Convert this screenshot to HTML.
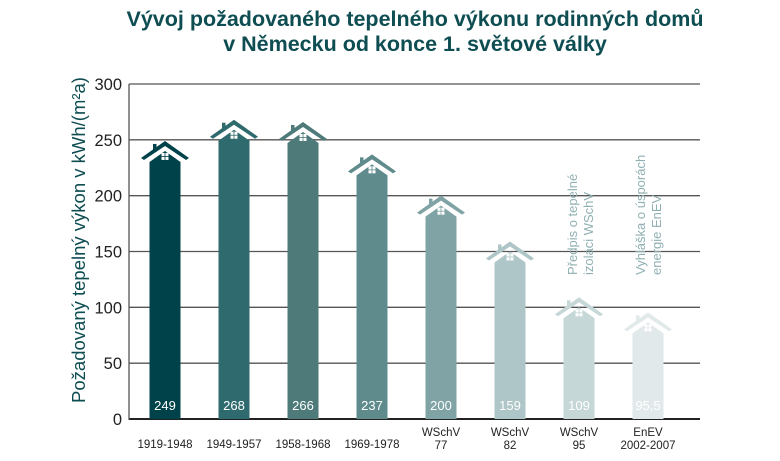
<!DOCTYPE html>
<html><head><meta charset="utf-8"><style>
body{margin:0;background:#fff;}
svg{display:block;font-family:"Liberation Sans",sans-serif;}
</style></head><body>
<svg width="780" height="461" viewBox="0 0 780 461">
<text x="415" y="26" text-anchor="middle" font-size="21.5" font-weight="bold" fill="#0e4d52">Vývoj požadovaného tepelného výkonu rodinných domů</text>
<text x="415" y="51" text-anchor="middle" font-size="21.5" font-weight="bold" fill="#0e4d52">v Německu od konce 1. světové války</text>
<text transform="translate(85,240) rotate(-90)" text-anchor="middle" font-size="18.5" fill="#0e4d52">Požadovaný tepelný výkon v  kWh/(m²a)</text>
<g id="grid"></g>
<g id="bars"></g>
<g id="labels"></g>
<text transform="translate(577,275) rotate(-90)" font-size="13" fill="#8fb0b2"><tspan x="0" y="0">Předpis o tepelné</tspan><tspan x="0" dy="16">izolaci WSchV</tspan></text>
<text transform="translate(645,275) rotate(-90)" font-size="13" fill="#8fb0b2"><tspan x="0" y="0">Vyhláška o úsporách</tspan><tspan x="0" dy="16">energie EnEV</tspan></text>
</svg>
<script>
const categories=[["1919-1948"],["1949-1957"],["1958-1968"],["1969-1978"],["WSchV","77"],["WSchV","82"],["WSchV","95"],["EnEV","2002-2007"]];
const values=[249,268,266,237,200,159,109,95.5];
const valueLabels=["249","268","266","237","200","159","109","95,5"];
const colors=["#00424a","#2f6b6e","#4e7a7a","#5f8b8d","#80a3a5","#afc6c8","#c6d7d8","#e1e9ea"];
const yTicks=[0,50,100,150,200,250,300];
const NS="http://www.w3.org/2000/svg";
const y=v=>419-v*(335/300);
const x=i=>165+i*69;
function mk(tag,attrs,parent,txt){const e=document.createElementNS(NS,tag);for(const k in attrs)e.setAttribute(k,attrs[k]);if(txt!==undefined)e.textContent=txt;parent.appendChild(e);return e;}
const grid=document.getElementById('grid'),bars=document.getElementById('bars'),labels=document.getElementById('labels');
yTicks.forEach(t=>{
  const l=mk('line',{x1:129,x2:700,y1:y(t),y2:y(t),stroke:t===0?'#222':'#555','stroke-width':t===0?2:1.3},grid);
  
  
  const tx=mk('text',{x:122,y:y(t)+6,'text-anchor':'end','font-size':16.5,fill:'#222'},grid,String(t));
  
  
});
mk('line',{x1:129,x2:129,y1:84,y2:420,stroke:'#555','stroke-width':1.3},grid);
values.forEach((v,i)=>{
  const cx=x(i),py=y(v),c=colors[i],b=y(0);
  const g=mk('g',{},bars);
  
  
  mk('rect',{x:cx-12,y:py+3,width:3.5,height:8,fill:c},g);
  mk('polygon',{points:`${cx-24},${py+17} ${cx},${py} ${cx+24},${py+17} ${cx+21},${py+19} ${cx},${py+5} ${cx-21},${py+19}`,fill:c},g);
  mk('polygon',{points:`${cx-15.5},${py+21} ${cx},${py+10} ${cx+15.5},${py+21} ${cx+15.5},${b} ${cx-15.5},${b}`,fill:c},g);
  mk('rect',{x:cx-3.5,y:py+12,width:7,height:7,fill:'#fff'},g);
  mk('line',{x1:cx,x2:cx,y1:py+12,y2:py+19,stroke:c,'stroke-width':0.8},g);
  mk('line',{x1:cx-3.5,x2:cx+3.5,y1:py+15.5,y2:py+15.5,stroke:c,'stroke-width':0.8},g);
  const vl=mk('text',{x:cx,y:410,'text-anchor':'middle','font-size':13,fill:'#fff'},g,valueLabels[i]);
  
  
  const cat=categories[i];
  const ct=mk('text',{'text-anchor':'middle','font-size':11.5,fill:'#222'},labels);
  
  
  cat.forEach((s,j)=>{mk('tspan',{x:cx,y:(cat.length===1?448:436)+j*13},ct,s);});
});
</script>
</body></html>
